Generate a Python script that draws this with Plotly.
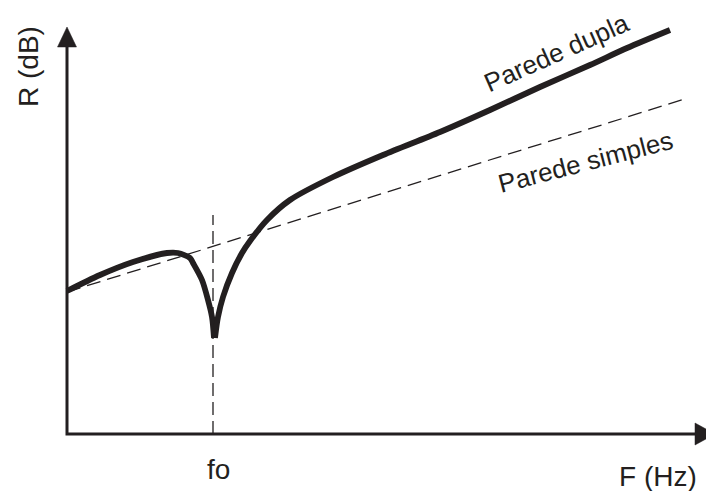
import plotly.graph_objects as go

# Units: horizontal/vertical distance from the axes origin (arbitrary scale)
# Double wall curve (Parede dupla), split at the resonance frequency fo
dupla_left_f = [0, 33, 66, 100, 111, 123, 126, 135, 141, 145, 147]
dupla_left_r = [143, 159, 172, 181, 181, 176, 171, 154, 134, 117, 96]
dupla_right_f = [148, 151, 156, 165, 175, 183, 200, 223, 266, 316, 373, 423, 473, 523, 560, 603]
dupla_right_r = [96, 117, 137, 161, 181, 193, 214, 234, 257, 279, 302, 324, 347, 369, 386, 404]

# Single wall line (Parede simples)
simples_f = [0, 621]
simples_r = [142, 336]

# Resonance frequency marker
fo_value = 146
fo_top = 219

# Axis extents
x_axis_end = 628
y_axis_end = 387
arrow_len = 20

ink = "#231f20"
font_family = "Liberation Sans, Arial, sans-serif"

fig_w, fig_h = 706, 491
x_min = -67
y_max = 434

fig = go.Figure()

# Single wall dashed line
fig.add_trace(go.Scatter(x=simples_f, y=simples_r, mode="lines",
                         line=dict(color=ink, width=1.3, dash="14px,7px"),
                         hoverinfo="skip", showlegend=False))

# fo vertical dashed marker
fig.add_trace(go.Scatter(x=[fo_value, fo_value], y=[0, fo_top], mode="lines",
                         line=dict(color=ink, width=1.3, dash="13px,6px"),
                         hoverinfo="skip", showlegend=False))

# Double wall thick curve
fig.add_trace(go.Scatter(x=dupla_left_f, y=dupla_left_r, mode="lines",
                         line=dict(color=ink, width=5.8, shape="spline", smoothing=0.8),
                         hoverinfo="skip", showlegend=False))
fig.add_trace(go.Scatter(x=dupla_right_f, y=dupla_right_r, mode="lines",
                         line=dict(color=ink, width=5.8, shape="spline", smoothing=0.8),
                         hoverinfo="skip", showlegend=False))

# Axes lines
fig.add_trace(go.Scatter(x=[0, 0, x_axis_end], y=[y_axis_end, 0, 0], mode="lines",
                         line=dict(color=ink, width=3),
                         hoverinfo="skip", showlegend=False))

# Arrowheads (filled triangles)
fig.add_trace(go.Scatter(x=[-9.5, 9.5, 0, -9.5],
                         y=[y_axis_end, y_axis_end, y_axis_end + arrow_len, y_axis_end],
                         mode="lines", fill="toself", fillcolor=ink,
                         line=dict(color=ink, width=0.5),
                         hoverinfo="skip", showlegend=False))
fig.add_trace(go.Scatter(x=[x_axis_end, x_axis_end, x_axis_end + arrow_len, x_axis_end],
                         y=[-11, 11, 0, -11],
                         mode="lines", fill="toself", fillcolor=ink,
                         line=dict(color=ink, width=0.5),
                         hoverinfo="skip", showlegend=False))

annotations = [
    dict(x=-39, y=367, text="R (dB)", textangle=-90, font=dict(size=28)),
    dict(x=151, y=-35, text="fo", font=dict(size=28)),
    dict(x=591, y=-42, text="F (Hz)", font=dict(size=28)),
    dict(x=489, y=381, text="Parede dupla", textangle=-24, font=dict(size=26)),
    dict(x=518, y=272, text="Parede simples", textangle=-14.5, font=dict(size=26)),
]
for a in annotations:
    a.update(xref="x", yref="y", showarrow=False, xanchor="center", yanchor="middle")
    a["font"].update(family=font_family, color=ink)
    fig.add_annotation(**a)

fig.update_layout(
    width=fig_w, height=fig_h,
    margin=dict(l=0, r=0, t=0, b=0),
    paper_bgcolor="white", plot_bgcolor="white",
    xaxis=dict(range=[x_min, x_min + fig_w], visible=False, fixedrange=True),
    yaxis=dict(range=[y_max - fig_h, y_max], visible=False, fixedrange=True),
    showlegend=False,
)

fig.write_html(
    "out.html",
    config={"displayModeBar": False},
    post_script="document.body.style.margin='0px'; document.body.style.overflow='hidden';",
)
